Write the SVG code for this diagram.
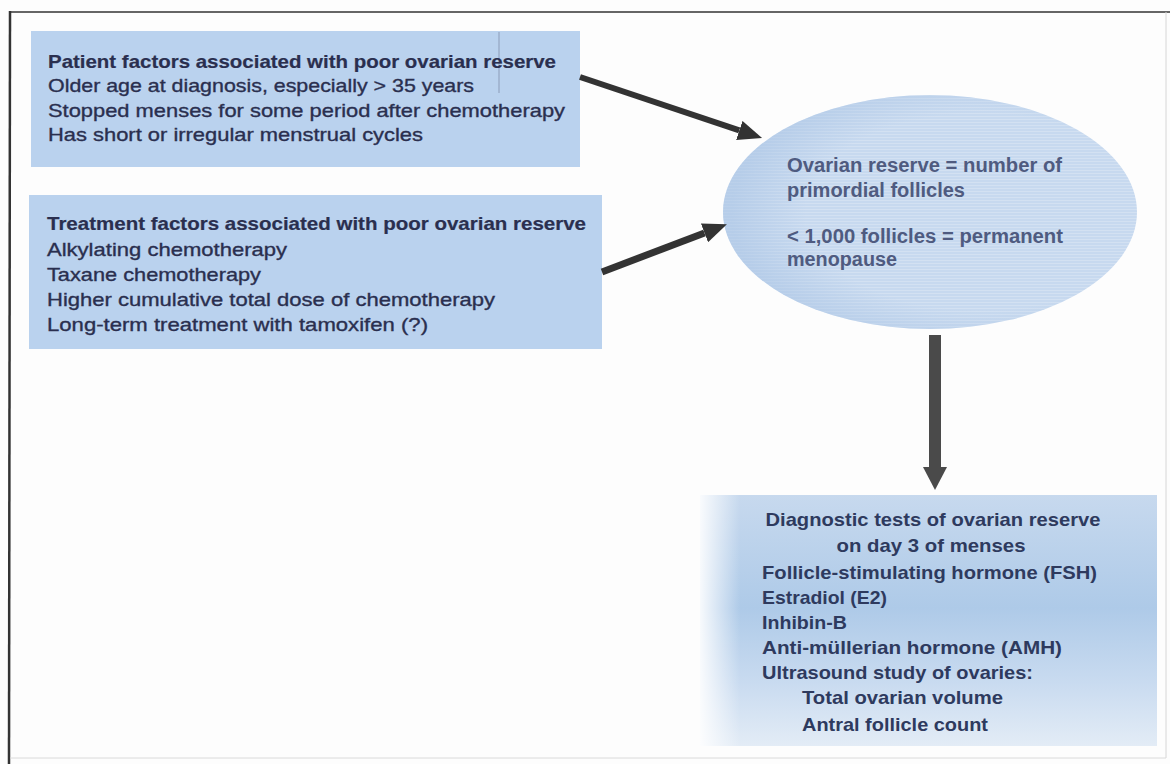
<svg xmlns="http://www.w3.org/2000/svg" width="1170" height="764" viewBox="0 0 1170 764">
  <defs>
    <style>
      .box { fill: #bad2ee; }
      .t { font-family: "Liberation Sans", Arial, sans-serif; font-size: 19px; fill: #2a2f4f; stroke: #2a2f4f; stroke-width: 0.35; }
      .b { font-weight: bold; stroke-width: 0.2; }
      .el { font-family: "Liberation Sans", Arial, sans-serif; font-size: 20px; font-weight: bold; fill: #4f5b80; }
      .d { font-family: "Liberation Sans", Arial, sans-serif; font-size: 19px; font-weight: bold; fill: #2e3a5e; }
      .conn { stroke: #333333; fill: none; }
    </style>
    <pattern id="scan" width="8" height="3" patternUnits="userSpaceOnUse">
      <rect width="8" height="3" fill="#c7d9ef"/>
      <rect y="2" width="8" height="1" fill="#d3e1f2"/>
    </pattern>
    <radialGradient id="shade" cx="0.62" cy="0.5" r="0.6">
      <stop offset="0.7" stop-color="#a8c3e4" stop-opacity="0"/>
      <stop offset="1" stop-color="#a8c3e4" stop-opacity="0.55"/>
    </radialGradient>
    <linearGradient id="g3" x1="0" y1="0" x2="0" y2="1">
      <stop offset="0" stop-color="#c7d9ee"/>
      <stop offset="0.45" stop-color="#aecae8"/>
      <stop offset="0.75" stop-color="#c9dbf0"/>
      <stop offset="1" stop-color="#e3ecf6"/>
    </linearGradient>
    <linearGradient id="fadeL" x1="0" y1="0" x2="1" y2="0">
      <stop offset="0" stop-color="#ffffff" stop-opacity="0.9"/>
      <stop offset="1" stop-color="#ffffff" stop-opacity="0"/>
    </linearGradient>
    <marker id="head" viewBox="0 0 24 20" refX="0" refY="10" markerWidth="24" markerHeight="20" markerUnits="userSpaceOnUse" orient="auto">
      <path d="M0,0 L24,10 L0,20 z" fill="#333333"/>
    </marker>
    <marker id="headV" viewBox="0 0 23 24" refX="0" refY="12" markerWidth="23" markerHeight="24" markerUnits="userSpaceOnUse" orient="auto">
      <path d="M0,0 L23,12 L0,24 z" fill="#4a4a4a"/>
    </marker>
  </defs>

  <rect width="1170" height="764" fill="#fdfdfd"/>

  <!-- frame -->
  <g id="frame">
    <line x1="10" y1="12" x2="1170" y2="12" stroke="#666666" stroke-width="2"/>
    <line x1="10" y1="11" x2="9" y2="764" stroke="#333333" stroke-width="2.5"/>
    <line x1="1166" y1="12" x2="1166" y2="758" stroke="#d6d6d6" stroke-width="1"/>
    <line x1="10" y1="758" x2="1166" y2="758" stroke="#dadada" stroke-width="1"/>
  </g>

  <g id="patient-factors">
    <rect class="box" x="31" y="31" width="549" height="136"/>
    <line x1="499" y1="32" x2="499" y2="93" stroke="#8c9cb8" stroke-width="1"/>
    <text class="t b" x="48" y="68" textLength="508" lengthAdjust="spacingAndGlyphs">Patient factors associated with poor ovarian reserve</text>
    <text class="t" x="48" y="92" textLength="426" lengthAdjust="spacingAndGlyphs">Older age at diagnosis, especially &gt; 35 years</text>
    <text class="t" x="48" y="117" textLength="517" lengthAdjust="spacingAndGlyphs">Stopped menses for some period after chemotherapy</text>
    <text class="t" x="48" y="141" textLength="375" lengthAdjust="spacingAndGlyphs">Has short or irregular menstrual cycles</text>
  </g>

  <g id="treatment-factors">
    <rect class="box" x="29" y="195" width="573" height="154"/>
    <text class="t b" x="47" y="230" textLength="539" lengthAdjust="spacingAndGlyphs">Treatment factors associated with poor ovarian reserve</text>
    <text class="t" x="47" y="256" textLength="240" lengthAdjust="spacingAndGlyphs">Alkylating chemotherapy</text>
    <text class="t" x="47" y="281" textLength="214" lengthAdjust="spacingAndGlyphs">Taxane chemotherapy</text>
    <text class="t" x="47" y="306" textLength="448" lengthAdjust="spacingAndGlyphs">Higher cumulative total dose of chemotherapy</text>
    <text class="t" x="47" y="331" textLength="381" lengthAdjust="spacingAndGlyphs">Long-term treatment with tamoxifen (?)</text>
  </g>

  <g id="ovarian-reserve">
    <ellipse cx="930" cy="212" rx="207" ry="117" fill="url(#scan)"/>
    <ellipse cx="930" cy="212" rx="207" ry="117" fill="url(#shade)"/>
    <text class="el" x="787" y="172" textLength="275" lengthAdjust="spacingAndGlyphs">Ovarian reserve = number of</text>
    <text class="el" x="787" y="197" textLength="178" lengthAdjust="spacingAndGlyphs">primordial follicles</text>
    <text class="el" x="787" y="243" textLength="276" lengthAdjust="spacingAndGlyphs">&lt; 1,000 follicles = permanent</text>
    <text class="el" x="787" y="266" textLength="110" lengthAdjust="spacingAndGlyphs">menopause</text>
  </g>

  <g id="diagnostic-tests">
    <rect x="700" y="495" width="457" height="251" fill="url(#g3)"/>
    <rect x="700" y="495" width="40" height="251" fill="url(#fadeL)"/>
    <text class="d" x="933" y="526" text-anchor="middle" textLength="335" lengthAdjust="spacingAndGlyphs">Diagnostic tests of ovarian reserve</text>
    <text class="d" x="931" y="552" text-anchor="middle" textLength="189" lengthAdjust="spacingAndGlyphs">on day 3 of menses</text>
    <text class="d" x="762" y="579" textLength="335" lengthAdjust="spacingAndGlyphs">Follicle-stimulating hormone (FSH)</text>
    <text class="d" x="762" y="604" textLength="125" lengthAdjust="spacingAndGlyphs">Estradiol (E2)</text>
    <text class="d" x="762" y="629" textLength="85" lengthAdjust="spacingAndGlyphs">Inhibin-B</text>
    <text class="d" x="762" y="654" textLength="300" lengthAdjust="spacingAndGlyphs">Anti-müllerian hormone (AMH)</text>
    <text class="d" x="762" y="679" textLength="271" lengthAdjust="spacingAndGlyphs">Ultrasound study of ovaries:</text>
    <text class="d" x="802" y="704" textLength="201" lengthAdjust="spacingAndGlyphs">Total ovarian volume</text>
    <text class="d" x="802" y="731" textLength="186" lengthAdjust="spacingAndGlyphs">Antral follicle count</text>
  </g>

  <g id="connectors">
    <line class="conn" x1="580" y1="77" x2="739.3" y2="130.4" stroke-width="6" marker-end="url(#head)"/>
    <line class="conn" x1="602" y1="272" x2="704.5" y2="232.9" stroke-width="7" marker-end="url(#head)"/>
    <line x1="935" y1="335" x2="935" y2="467" stroke="#4a4a4a" stroke-width="12" marker-end="url(#headV)"/>
  </g>
</svg>
